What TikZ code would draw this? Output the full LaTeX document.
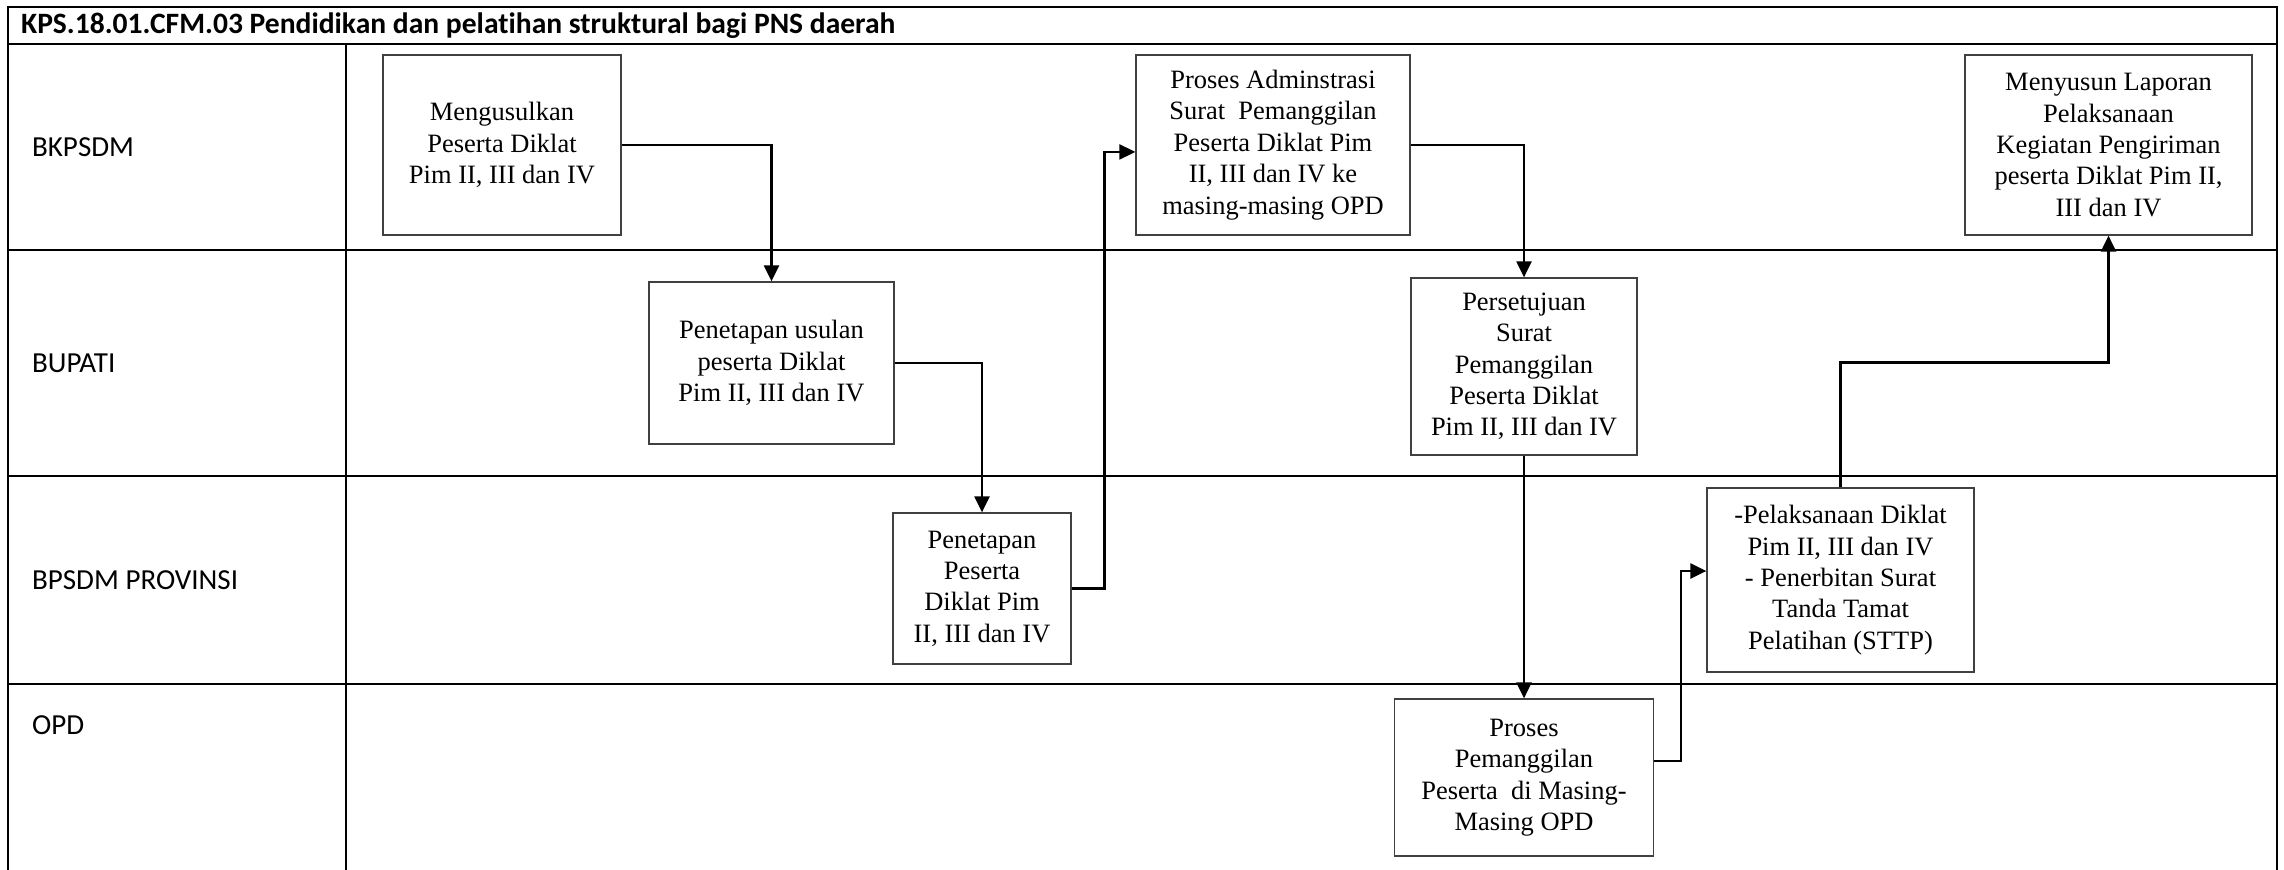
\documentclass[tikz,border=0pt]{standalone}
\usepackage{fontspec}
\setmainfont{Liberation Serif}
\newfontfamily\lanefont[Ligatures=NoCommon]{Carlito}
\usetikzlibrary{arrows.meta}

\begin{document}
\begin{tikzpicture}[x=.389pt,y=-.389pt,
  box/.style={draw=black!75,line width=.5pt,align=center,inner sep=0pt,
    font=\fontsize{10.3}{12.2}\selectfont},
  boxsize/.style 2 args={minimum width=#1*.389pt,minimum height=#2*.389pt},
  lane/.style={anchor=west,font=\lanefont\fontsize{11.3}{13}\selectfont},
  rule/.style={line width=1pt},
  flow/.style={line width=.95pt,-{Triangle[length=6.2pt,width=5.8pt]}}]
  \useasboundingbox (0,0) rectangle (2284,870);
  \draw[rule] (8,870) -- (8,7) -- (2277,7) -- (2277,870);
  \draw[rule] (8,44) -- (2277,44);
  \foreach \y in {250,476,684}
    \draw[rule] (8,\y) -- (2277,\y);
  \draw[rule] (346,44) -- (346,870);

  \node[lane,font=\lanefont\bfseries\fontsize{11.5}{13}\selectfont] (title) at (12,26)
    {KPS.18.01.CFM.03 Pendidikan dan pelatihan struktural bagi PNS daerah};
  \node[lane] (bkpsdm) at (23,147) {BKPSDM};
  \node[lane] (bupati) at (23,363) {BUPATI};
  \node[lane] (bpsdm) at (23,580) {BPSDM PROVINSI};
  \node[lane] (opd) at (23,725) {OPD};

  \node[box,boxsize={238}{180}] (usul) at (502,145)
    {Mengusulkan\\Peserta Diklat\\Pim II, III dan IV};
  \node[box,boxsize={245}{162}] (tetapusul) at (771.5,363)
    {Penetapan usulan\\peserta Diklat\\Pim II, III dan IV};
  \node[box,boxsize={178}{151}] (tetap) at (982,588.5)
    {Penetapan\\Peserta\\Diklat Pim\\II, III dan IV};
  \node[box,boxsize={274}{180}] (admin) at (1273,145)
    {Proses Adminstrasi\\Surat\ \ Pemanggilan\\Peserta Diklat Pim\\II, III dan IV ke\\masing-masing OPD};
  \node[box,boxsize={226}{177}] (setuju) at (1524,366.5)
    {Persetujuan\\Surat\\Pemanggilan\\Peserta Diklat\\Pim II, III dan IV};
  \node[box,boxsize={259}{157}] (panggil) at (1524,777.5)
    {Proses\\Pemanggilan\\Peserta\ \ di Masing-\\Masing OPD};
  \node[box,boxsize={267}{184}] (laksana) at (1840.5,580)
    {-Pelaksanaan Diklat\\Pim II, III dan IV\\- Penerbitan Surat\\Tanda Tamat\\Pelatihan (STTP)};
  \node[box,boxsize={287}{180}] (lapor) at (2108.5,145)
    {Menyusun Laporan\\Pelaksanaan\\Kegiatan Pengiriman\\peserta Diklat Pim II,\\III dan IV};

  \draw[flow] (usul.east) -| (tetapusul.north);
  \draw[flow] (tetapusul.east) -| (tetap.north);
  \draw[flow] (tetap.east) -- ++(33,0) |- ([yshift=-2.7pt]admin.west);
  \draw[flow] (admin.east) -| (setuju.north);
  \draw[flow] (setuju.south) -- (panggil.north);
  \draw[flow] ([yshift=6.4pt]panggil.east) -- ++(27,0) |- ([yshift=3.5pt]laksana.west);
  \draw[flow] (laksana.north) -- ++(0,-125) -| (lapor.south);
\end{tikzpicture}
\end{document}
